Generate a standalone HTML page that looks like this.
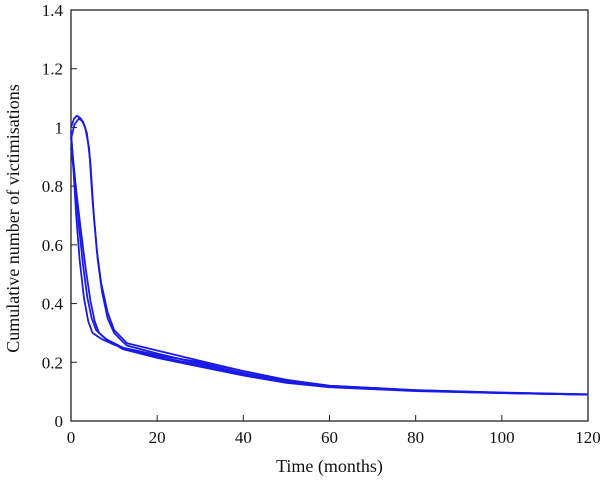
<!DOCTYPE html>
<html><head><meta charset="utf-8"><style>
body{margin:0;background:#fff;}
svg text{font-family:"Liberation Serif",serif;fill:#111;}
</style></head><body>
<svg id="chart" width="600" height="479"></svg>
<script>
const xTicks=[0,20,40,60,80,100,120];
const yTicks=[0,0.2,0.4,0.6,0.8,1,1.2,1.4];
const yTickLabels=["0","0.2","0.4","0.6","0.8","1","1.2","1.4"];
const seriesA=[[0,1.0],[0.7,1.03],[1.4,1.04],[2.3,1.03],[3.3,1.0],[4.2,0.93],[5,0.75],[6,0.58],[7,0.47],[8.5,0.37],[10,0.31],[12,0.28],[13,0.265],[20,0.24],[30,0.205],[40,0.17],[50,0.14],[60,0.12],[80,0.105],[100,0.097],[120,0.091]];
const seriesB=[[0,0.96],[0.8,1.01],[1.8,1.03],[2.8,1.02],[3.7,0.98],[4.5,0.88],[5.3,0.7],[6.2,0.55],[7.2,0.44],[8.5,0.35],[10,0.3],[12,0.27],[13,0.257],[20,0.23],[30,0.195],[40,0.163],[50,0.135],[60,0.118],[80,0.103],[100,0.095],[120,0.09]];
const seriesC=[[0,0.99],[0.6,0.85],[1.2,0.7],[2,0.55],[3,0.42],[4,0.34],[5,0.3],[7,0.28],[10,0.26],[15,0.235],[20,0.22],[30,0.19],[40,0.16],[50,0.135],[60,0.118],[80,0.104],[100,0.096],[120,0.09]];
const seriesD=[[0,0.97],[0.9,0.83],[1.8,0.67],[2.8,0.53],[3.8,0.42],[4.8,0.35],[5.8,0.31],[8,0.28],[12,0.25],[20,0.225],[30,0.2],[40,0.17],[50,0.14],[60,0.12],[80,0.105],[100,0.096],[120,0.09]];
const seriesE=[[0,0.93],[1.1,0.8],[2.2,0.66],[3.4,0.52],[4.5,0.41],[5.5,0.34],[6.5,0.3],[8.5,0.275],[12,0.245],[20,0.215],[30,0.185],[40,0.155],[50,0.13],[60,0.115],[80,0.102],[100,0.095],[120,0.09]];
const allSeries=[seriesA,seriesB,seriesC,seriesD,seriesE];
const X0=71,X1=588,Y0=421,Y1=10;
const sx=v=>X0+(v-0)/(120-0)*(X1-X0);
const sy=v=>Y0-(v-0)/(1.4-0)*(Y0-Y1);
const svg=document.getElementById('chart');
const NS='http://www.w3.org/2000/svg';
function mk(t,a){const e=document.createElementNS(NS,t);for(const k in a)e.setAttribute(k,a[k]);svg.appendChild(e);return e;}
let f=mk('rect',{x:X0,y:Y1,width:X1-X0,height:Y0-Y1,fill:'none',stroke:'#222','stroke-width':1.3});


xTicks.forEach(v=>{
  const l=mk('line',{x1:sx(v),x2:sx(v),y1:Y0,y2:Y0-6,stroke:'#222'});
  
  
  const t=mk('text',{x:sx(v),y:Y0+22,'text-anchor':'middle','font-size':17});
  t.textContent=v;
  
  
});
yTicks.forEach((v,i)=>{
  const l=mk('line',{x1:X0,x2:X0+6,y1:sy(v),y2:sy(v),stroke:'#222'});
  
  
  const t=mk('text',{x:X0-8,y:sy(v)+6,'text-anchor':'end','font-size':17});
  t.textContent=yTickLabels[i];
  
  
});
allSeries.forEach((s,i)=>{
  const d=s.map((p,j)=>(j?'L':'M')+sx(p[0]).toFixed(2)+','+sy(p[1]).toFixed(2)).join('');
  const p=mk('path',{d:d,fill:'none',stroke:'#1a1ae6','stroke-width':1.8,'stroke-linejoin':'round'});
  
  
});
const xt=mk('text',{x:(X0+X1)/2,y:472,'text-anchor':'middle','font-size':18});
xt.textContent='Time (months)';


const yt=mk('text',{x:0,y:0,'text-anchor':'middle','font-size':18,transform:'translate(19,'+((Y0+Y1)/2+3)+') rotate(-90)'});
yt.textContent='Cumulative number of victimisations';


</script>
</body></html>
